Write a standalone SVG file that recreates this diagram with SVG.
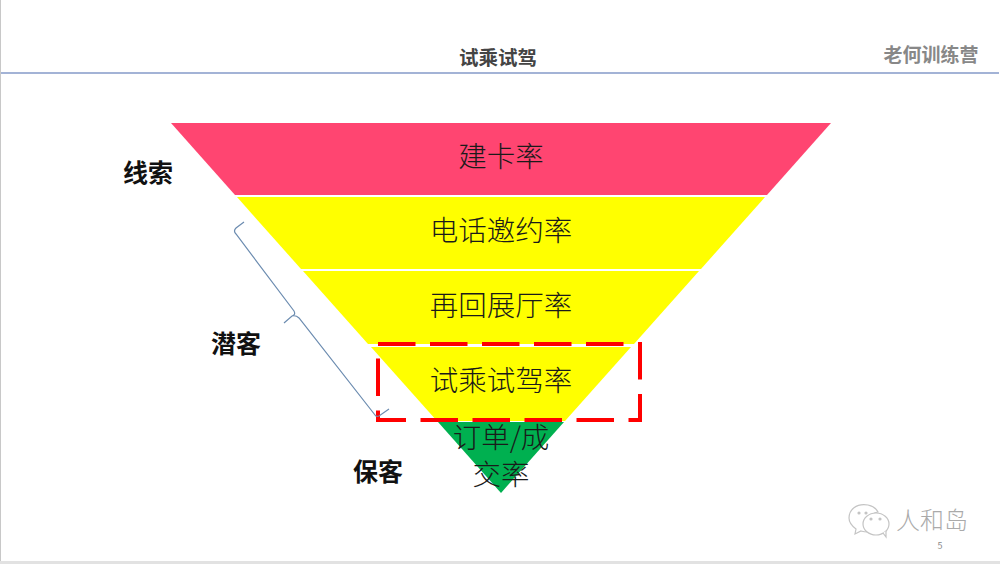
<svg xmlns="http://www.w3.org/2000/svg" width="1000" height="564" viewBox="0 0 1000 564">
<style>
text{font-family:"Noto Sans CJK SC","Liberation Sans",sans-serif}
.f{font-size:28.500px;fill:#1a1a1a;text-anchor:middle;font-weight:300}
.l{font-size:25px;font-weight:700;fill:#111;text-anchor:middle}
</style>
<rect width="1000" height="564" fill="#fff"/>
<rect x="0" y="0" width="1" height="562" fill="#c8c8c8"/>
<rect x="0" y="561" width="1000" height="3" fill="#e2e2e2"/>
<rect x="1" y="72" width="998" height="2" fill="#a3b3d6"/>
<text x="498" y="65" font-size="19.500" font-weight="700" fill="#444" text-anchor="middle">试乘试驾</text>
<text x="931" y="62" font-size="19" font-weight="700" fill="#888" text-anchor="middle">老何训练营</text>
<g id="n1"><polygon points="171,123 831,123 767,195 235,195" fill="#ff4571"/><text class="f" x="501" y="167">建卡率</text></g>
<g id="n2"><polygon points="237,197 765,197 701,269 301,269" fill="#ffff00"/><text class="f" x="501" y="241">电话邀约率</text></g>
<g id="n3"><polygon points="303,271 699,271 634,344 368,344" fill="#ffff00"/><text class="f" x="501" y="316">再回展厅率</text></g>
<g id="n4"><polygon points="371,347 631,347 565,421 437,421" fill="#ffff00"/><text class="f" x="501" y="391">试乘试驾率</text></g>
<g id="n5"><polygon points="438,422 564,422 501,493" fill="#00b050"/><text class="f" x="501" y="448">订单/成</text><text class="f" x="501" y="485">交率</text></g>
<g id="highlight"><rect x="378" y="344" width="262" height="76" fill="none" stroke="#ff0000" stroke-width="4" stroke-dasharray="37.500 14.500"/></g>
<g id="connectors"><path d="M244,222 L236,228 Q233,231 236,234 L294,311 Q296,315 292,316 L284,323 M292,316 Q296,315 299,318 L375,415 Q376,417 379,416 L389,409" fill="none" stroke="#6c8cb0" stroke-width="1.200"/></g>
<g id="labels"><text class="l" x="148" y="182">线索</text><text class="l" x="236" y="353">潜客</text><text class="l" x="378" y="481">保客</text></g>
<g id="watermark" fill="#fff" stroke="#c4c4c4" stroke-width="1.200"><path d="M868,505 C856,503 849,510 849,518 C849,523 852,526 856,529 L855,534 L861,531 C864,532 866,532 868,532 C864,522 870,513 878,512 C876,508 873,506 868,505Z"/><ellipse cx="876" cy="524" rx="13" ry="11"/><path d="M883,533 L886,537 L886,531" /><circle cx="859" cy="513" r="1" fill="#bbb"/><circle cx="866" cy="513" r="1" fill="#bbb"/><circle cx="871" cy="519" r="1" fill="#bbb"/><circle cx="880" cy="519" r="1" fill="#bbb"/><text x="932" y="529" font-size="24" fill="#aaa" stroke="none" text-anchor="middle" font-weight="300">人和岛</text><text x="940" y="549" font-size="9" fill="#888" stroke="none" text-anchor="middle">5</text></g>
</svg>
